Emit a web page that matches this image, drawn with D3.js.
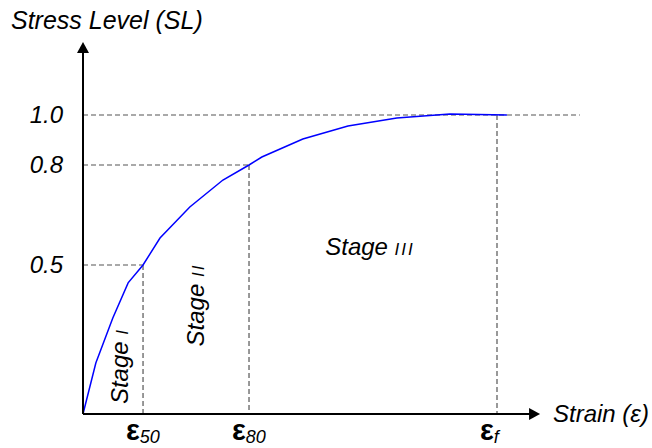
<!DOCTYPE html>
<html>
<head>
<meta charset="utf-8">
<script src="https://cdn.jsdelivr.net/npm/d3@7"></script>
<style>
  body { margin: 0; background: #fff; }
  text { font-family: Arial, "Liberation Sans", sans-serif; font-style: italic; }
</style>
</head>
<body>
<div id="graph"></div>
<script>
// 曲線のデータ（ひずみ・応力レベル）
const strain = [0, 0.031, 0.072, 0.109, 0.145, 0.186, 0.258, 0.338, 0.401, 0.432, 0.531, 0.640, 0.758, 0.886, 1.024];
const stressLevel = [0, 0.171, 0.322, 0.44, 0.5, 0.581, 0.674, 0.755, 0.8, 0.832, 0.904, 0.956, 0.988, 1.004, 1.0];

// 目盛り
const slTicks = [0.5, 0.8, 1.0];
const slTickLabels = ['0.5', '0.8', '1.0'];
const strainTicks = [0.145, 0.401, 1.0];
const strainTickSubs = ['50', '80', 'f'];

// ステージ名
const stages = ['I', 'II', 'III'];

const width = 652;
const height = 448;

const svg = d3.select('#graph')
  .append('svg')
  .attr('width', width)
  .attr('height', height);

// スケール（縦軸は模式図なので区分線形）
const x = d3.scaleLinear().domain([0, 1]).range([83, 497]);
const y = d3.scaleLinear().domain([0, 0.5, 0.8, 1.0]).range([414, 265, 165, 115]);

const dash = '#555';

// 破線（横）
slTicks.forEach((v, i) => {
  const xEnd = v === 1.0 ? 1.2 : strainTicks[i];
  svg.append('line')
    .attr('x1', x(0)).attr('x2', x(xEnd))
    .attr('y1', y(v)).attr('y2', y(v))
    .attr('stroke', dash).attr('stroke-width', 1.2)
    .attr('stroke-dasharray', '5,3');
});

// 破線（縦）
strainTicks.forEach((v, i) => {
  svg.append('line')
    .attr('x1', x(v)).attr('x2', x(v))
    .attr('y1', y(slTicks[i])).attr('y2', y(0))
    .attr('stroke', dash).attr('stroke-width', 1.2)
    .attr('stroke-dasharray', '5,3');
});

// 曲線
const line = d3.line()
  .x((d, i) => x(strain[i]))
  .y(d => y(d));

svg.append('path')
  .datum(stressLevel)
  .attr('d', line)
  .attr('fill', 'none')
  .attr('stroke', '#0000ff')
  .attr('stroke-width', 1.5);

// 軸
const xMax = 1.104;
const yMax = 1.292;

svg.append('line')
  .attr('x1', x(0)).attr('x2', x(xMax) - 8)
  .attr('y1', y(0)).attr('y2', y(0))
  .attr('stroke', '#000').attr('stroke-width', 2);
svg.append('path')
  .attr('d', `M${x(xMax)},${y(0)} L${x(xMax) - 11},${y(0) - 6} L${x(xMax) - 11},${y(0) + 6} Z`)
  .attr('fill', '#000');

svg.append('line')
  .attr('x1', x(0)).attr('x2', x(0))
  .attr('y1', y(0)).attr('y2', y(yMax) + 8)
  .attr('stroke', '#000').attr('stroke-width', 2);
svg.append('path')
  .attr('d', `M${x(0)},${y(yMax)} L${x(0) - 6},${y(yMax) + 11} L${x(0) + 6},${y(yMax) + 11} Z`)
  .attr('fill', '#000');

// 縦軸ラベル
slTicks.forEach((v, i) => {
  svg.append('text')
    .attr('x', 63).attr('y', y(v) + 8)
    .attr('text-anchor', 'end')
    .attr('font-size', 24)
    .text(slTickLabels[i]);
});

// 横軸ラベル（ε）
strainTicks.forEach((v, i) => {
  const t = svg.append('text')
    .attr('x', x(v) - 17).attr('y', y(0) + 26);
  t.append('tspan')
    .attr('font-size', 29).attr('font-weight', 'bold').attr('font-style', 'normal')
    .text('ε');
  t.append('tspan')
    .attr('font-size', 18).attr('dy', 3)
    .text(strainTickSubs[i]);
});

// 軸タイトル
svg.append('text')
  .attr('x', 11).attr('y', 29)
  .attr('font-size', 25)
  .text('Stress Level (SL)');

svg.append('text')
  .attr('x', 553).attr('y', 422)
  .attr('font-size', 24)
  .text('Strain (ε)');

// ステージ
function stageLabel(t, n) {
  t.append('tspan').text('Stage ');
  t.append('tspan').attr('font-size', 17).attr('letter-spacing', 2).text(n);
}

svg.append('text')
  .attr('transform', 'translate(128,366) rotate(-90)')
  .attr('text-anchor', 'middle')
  .attr('font-size', 24)
  .call(stageLabel, stages[0]);

svg.append('text')
  .attr('transform', 'translate(204,305) rotate(-90)')
  .attr('text-anchor', 'middle')
  .attr('font-size', 24)
  .call(stageLabel, stages[1]);

svg.append('text')
  .attr('x', 370).attr('y', 255)
  .attr('text-anchor', 'middle')
  .attr('font-size', 24)
  .call(stageLabel, stages[2]);
</script>
</body>
</html>
